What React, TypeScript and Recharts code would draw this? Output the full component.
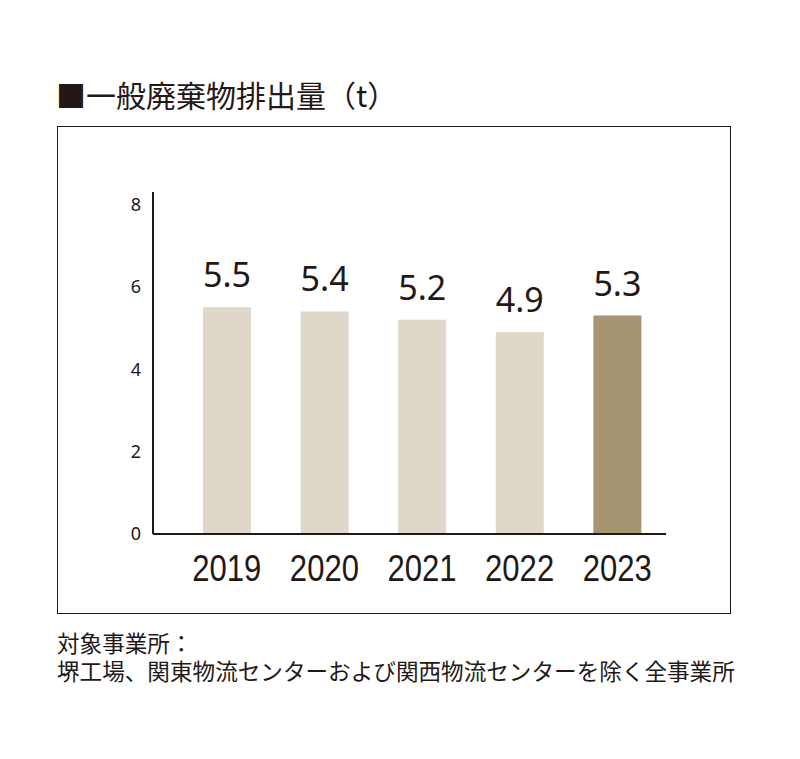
import React from "react";
import { BarChart, Bar, XAxis, YAxis, Cell, LabelList } from "recharts";

const years = ["2019", "2020", "2021", "2022", "2023"];
const wasteTons = [5.5, 5.4, 5.2, 4.9, 5.3];
const barColors = ["#dfd7ca", "#dfd7ca", "#dfd7ca", "#dfd7ca", "#a69570"];
const yTicks = [0, 2, 4, 6, 8];

const title = "■一般廃棄物排出量（t）";
const noteLines = ["対象事業所：", "堺工場、関東物流センターおよび関西物流センターを除く全事業所"];

const INK = "#231815";

const data = years.map((year, i) => ({ year, value: wasteTons[i] }));

// narrow year labels: no condensed font installed, so squeeze horizontally
const YearTick = (props: any) => {
    const { x, y, payload } = props;
    return (
        <text
            transform={`translate(${x},${y + 47}) scale(0.84,1)`}
            textAnchor="middle"
            fill={INK}
            fontSize={37}
            fontFamily="'Liberation Sans', Arial, sans-serif"
        >
            {payload.value}
        </text>
    );
};

const App: React.FC = () => {
    return (
        <div
            style={{
                position: "absolute",
                left: 0,
                top: 0,
                width: 800,
                height: 759,
                background: "#fff",
                fontFamily: "'Noto Sans CJK JP', 'Noto Sans', sans-serif",
                color: INK,
            }}
        >
            <div style={{ position: "absolute", left: 56, top: 79, fontSize: 30, lineHeight: 1, whiteSpace: "nowrap" }}>
                {title}
            </div>

            <div
                style={{
                    position: "absolute",
                    left: 57,
                    top: 126,
                    width: 674,
                    height: 488,
                    border: `1.5px solid ${INK}`,
                    boxSizing: "border-box",
                }}
            />

            <div style={{ position: "absolute", left: 0, top: 0 }}>
                <BarChart width={800} height={640} data={data} margin={{ top: 192, right: 134, left: 0, bottom: 0 }}>
                    <XAxis
                        dataKey="year"
                        height={106}
                        padding={{ left: 25, right: 0 }}
                        axisLine={{ stroke: INK, strokeWidth: 2 }}
                        tickLine={false}
                        tickSize={0}
                        tickMargin={0}
                        tick={<YearTick />}
                    />
                    <YAxis
                        width={153}
                        domain={[0, 8.3]}
                        ticks={yTicks}
                        axisLine={{ stroke: INK, strokeWidth: 2 }}
                        tickLine={false}
                        tickSize={6}
                        tickMargin={6}
                        tick={{ fill: INK, fontSize: 18, fontFamily: "'Noto Sans', sans-serif" }}
                    />
                    <Bar dataKey="value" barSize={48} isAnimationActive={false}>
                        {data.map((d, i) => (
                            <Cell key={d.year} fill={barColors[i]} />
                        ))}
                        <LabelList
                            dataKey="value"
                            position="top"
                            offset={20}
                            fill={INK}
                            fontSize={34}
                            fontFamily="'Noto Sans', sans-serif"
                        />
                    </Bar>
                </BarChart>
            </div>

            <div
                style={{
                    position: "absolute",
                    left: 57,
                    top: 629,
                    fontSize: 22.6,
                    lineHeight: "28px",
                    whiteSpace: "pre",
                }}
            >
                {noteLines.join("\n")}
            </div>
        </div>
    );
};

export default App;
